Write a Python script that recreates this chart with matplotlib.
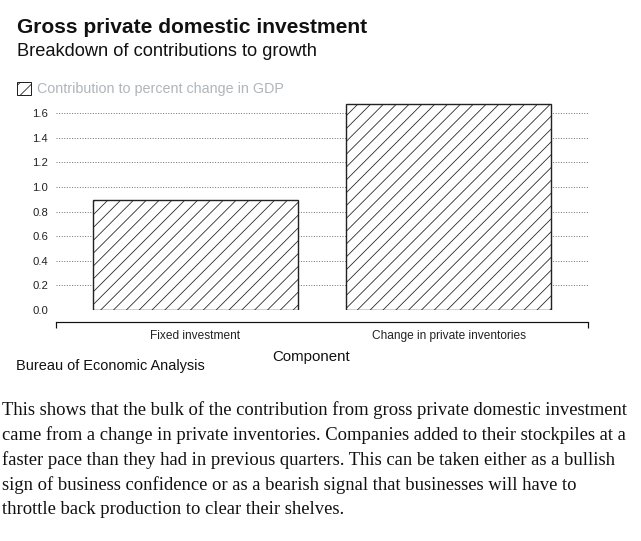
import matplotlib
matplotlib.use("Agg")
import matplotlib.pyplot as plt
from matplotlib.patches import Patch

# values
categories = ["Fixed investment", "Change in private inventories"]
contributions = [0.89, 1.67]
yticks = [0.0, 0.2, 0.4, 0.6, 0.8, 1.0, 1.2, 1.4, 1.6]

title = "Gross private domestic investment"
subtitle = "Breakdown of contributions to growth"
series_name = "Contribution to percent change in GDP"
source = "Bureau of Economic Analysis"
caption_lines = [
    "This shows that the bulk of the contribution from gross private domestic investment",
    "came from a change in private inventories. Companies added to their stockpiles at a",
    "faster pace than they had in previous quarters. This can be taken either as a bullish",
    "sign of business confidence or as a bearish signal that businesses will have to",
    "throttle back production to clear their shelves.",
]

# dpi chosen so the hatch spacing comes out near the reference
DPI = 154
W, H = 641, 541


def px(v):
    # pixel size -> points
    return v * 72 / DPI


plt.rcParams["font.family"] = ["Liberation Sans", "DejaVu Sans"]
plt.rcParams["hatch.linewidth"] = px(0.8)
plt.rcParams["hatch.color"] = "#222222"

fig = plt.figure(figsize=(W / DPI, H / DPI), dpi=DPI)

# axes placed in pixel terms: left 56, right 588, y=0 at 310
left, right, y0, ytop = 56, 588, 310, 100.7
ax = fig.add_axes([left / W, 1 - y0 / H, (right - left) / W, (y0 - ytop) / H])

xpos = list(range(len(categories)))
ax.bar(xpos, contributions, width=0.81, facecolor="white", edgecolor="#222222",
       linewidth=px(1.4), hatch="////", zorder=3, label=series_name)

ax.set_xlim(-0.55, 1.55)
ax.set_ylim(0, 1.7)
ax.set_yticks(yticks)
ax.set_yticklabels([f"{t:.1f}" for t in yticks])
ax.yaxis.grid(True, color="#777777", linewidth=px(1.0), linestyle=(0, (1, 1.6)), zorder=0)
ax.set_axisbelow(True)

for s in ["top", "right", "left"]:
    ax.spines[s].set_visible(False)
ax.spines["bottom"].set_position(("outward", px(12)))
ax.spines["bottom"].set_linewidth(px(1.2))
ax.spines["bottom"].set_color("#111111")

ax.tick_params(axis="y", length=0, pad=px(8), labelsize=px(11.3), labelcolor="#222222")
ax.set_xticks(xpos)
ax.set_xticklabels(categories)
ax.tick_params(axis="x", which="major", length=0, pad=px(8), labelsize=px(11.9), labelcolor="#222222")
ax.set_xticks(ax.get_xlim(), minor=True)
ax.tick_params(axis="x", which="minor", direction="out", length=px(6), width=px(1.2), color="#111111")

fig.text(311.5 / W, 1 - 357 / H, "Component", ha="center", va="center", fontsize=px(15), color="#111111")

fig.text(17 / W, 1 - 27.5 / H, title, ha="left", va="center", fontsize=px(21),
         fontweight="bold", color="#111111")
fig.text(17 / W, 1 - 51 / H, subtitle, ha="left", va="center", fontsize=px(18.3), color="#111111")

handle = Patch(facecolor="white", edgecolor="#222222", linewidth=px(1.0), hatch="////")
fig.legend([handle], [series_name], loc="center left", bbox_to_anchor=(16.5 / W, 1 - 89 / H),
           frameon=False, fontsize=px(14.3), labelcolor="#b0b5ba", handlelength=1.0,
           handleheight=1.0, handletextpad=0.45, borderpad=0, borderaxespad=0)

fig.text(16 / W, 1 - 366 / H, source, ha="left", va="center", fontsize=px(14.5), color="#111111")

for i, line in enumerate(caption_lines):
    fig.text(2 / W, 1 - (410 + 25 * i) / H, line, ha="left", va="center",
             fontsize=px(18.7), family=["Liberation Serif", "DejaVu Serif"], color="#111111")

fig.savefig("out.png", dpi=DPI, facecolor="white")
